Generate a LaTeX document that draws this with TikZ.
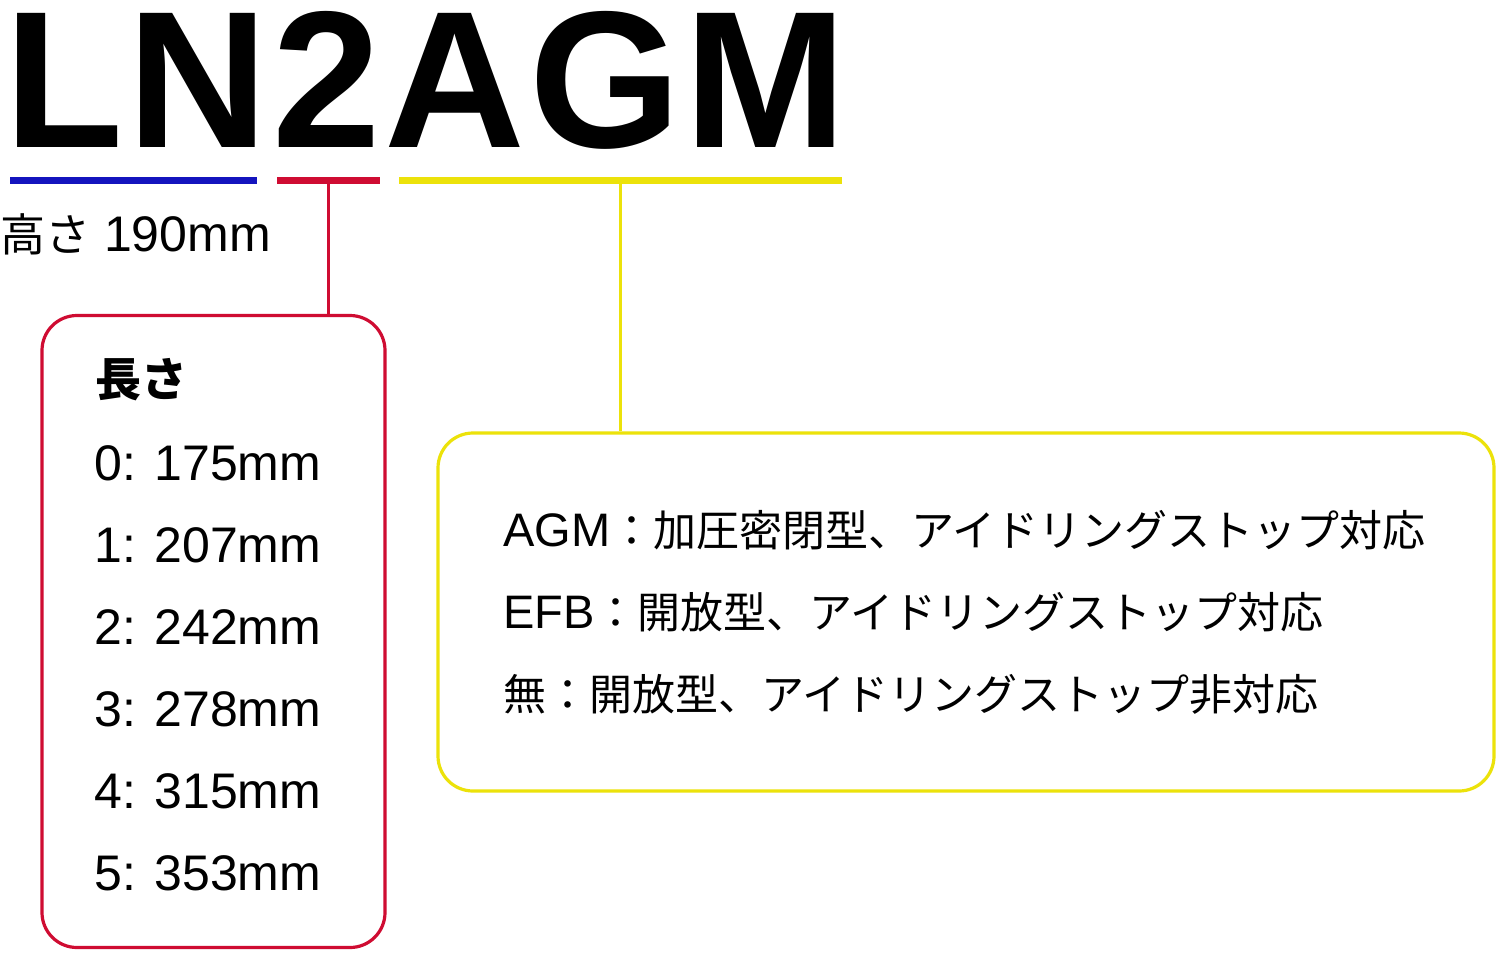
\documentclass[tikz,border=0pt]{standalone}
\usepackage{fontspec}
\setmainfont{Liberation Sans}
\newfontfamily\jp{Noto Sans CJK JP}
\newcommand{\myfs}[1]{\fontsize{#1}{#1}\selectfont}
\definecolor{lnblue}{RGB}{20,20,190}
\definecolor{lnred}{RGB}{207,12,50}
\definecolor{lnyellow}{RGB}{236,226,10}
\tikzset{
  uline/.style={rectangle, inner sep=0, minimum height=7, draw=none},
  infobox/.style={rectangle, rounded corners=35, line width=3.2, inner sep=0, fill=none},
  txt/.style={anchor=base west, inner sep=0},
}
\begin{document}
\begin{tikzpicture}[x=1pt,y=-1pt]
\useasboundingbox[fill=white] (0,0) rectangle (1500,954);
% title
\node[txt, font=\bfseries\myfs{195}, text height=143pt, text depth=0pt] (title) at (4,147) {L\kern4pt N\kern4pt 2\kern4pt A\kern4pt G\kern4pt M};
% underlines
\node[uline, fill=lnblue, minimum width=247] (ublue) at (133.5,180) {};
\node[uline, fill=lnred, minimum width=103] (ured) at (328.5,180) {};
\node[uline, fill=lnyellow, minimum width=443] (uyellow) at (620.5,180) {};
% height label
\node[txt] (height) at (0,251) {{\jp\myfs{45}高さ}\myfs{50} 190mm};
% boxes
\node[infobox, draw=lnred, minimum width=343, minimum height=632] (redbox) at (213.5,631.5) {};
\node[infobox, draw=lnyellow, minimum width=1056, minimum height=358] (yellowbox) at (966,612) {};
% connectors
\draw[lnred, line width=3.2] (ured.south) -- (ured.south |- redbox.north);
\draw[lnyellow, line width=3.2] (uyellow.south) -- (uyellow.south |- yellowbox.north);
% red box text
\node[txt, font=\jp\bfseries\myfs{46}] (hdr) at (95,396) {長さ};
\node[txt, font=\myfs{50}] (l0) at (94,480) {0: 175mm};
\node[txt, font=\myfs{50}] (l1) at (94,562) {1: 207mm};
\node[txt, font=\myfs{50}] (l2) at (94,644) {2: 242mm};
\node[txt, font=\myfs{50}] (l3) at (94,726) {3: 278mm};
\node[txt, font=\myfs{50}] (l4) at (94,808) {4: 315mm};
\node[txt, font=\myfs{50}] (l5) at (94,890) {5: 353mm};
% yellow box text
\node[txt] (y1) at (503,546) {\myfs{47}AGM\jp\myfs{43}：加圧密閉型、アイドリングストップ対応};
\node[txt] (y2) at (503,628) {\myfs{47}EFB\jp\myfs{43}：開放型、アイドリングストップ対応};
\node[txt] (y3) at (503,710) {\jp\myfs{43}無：開放型、アイドリングストップ非対応};
\end{tikzpicture}
\end{document}
